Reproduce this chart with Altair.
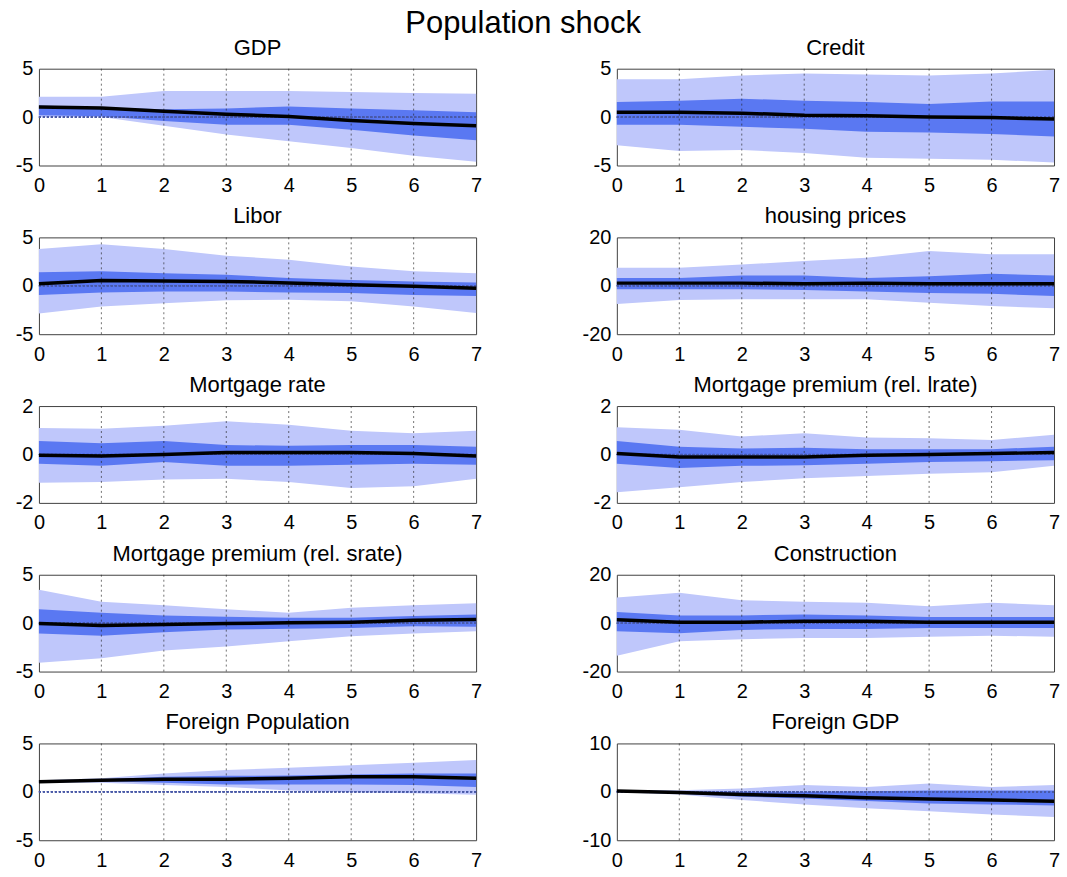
import altair as alt
import pandas as pd

steps = [0, 1, 2, 3, 4, 5, 6, 7]
grid_x = [1, 2, 3, 4, 5, 6]

titles = ["GDP", "Credit", "Libor", "housing prices", "Mortgage rate",
          "Mortgage premium (rel. lrate)", "Mortgage premium (rel. srate)",
          "Construction", "Foreign Population", "Foreign GDP"]
y_ticks = [[-5, 0, 5], [-5, 0, 5], [-5, 0, 5], [-20, 0, 20], [-2, 0, 2],
           [-2, 0, 2], [-5, 0, 5], [-20, 0, 20], [-5, 0, 5], [-10, 0, 10]]

gdp_hi90 = [2.1, 2.1, 2.7, 2.7, 2.7, 2.6, 2.5, 2.4]
gdp_hi68 = [1.2, 1.0, 0.8, 0.9, 1.1, 0.9, 0.7, 0.5]
gdp_med = [1.05, 0.95, 0.6, 0.3, 0.05, -0.35, -0.65, -0.9]
gdp_lo68 = [0.2, 0.1, -0.4, -0.8, -0.8, -1.3, -1.9, -2.4]
gdp_lo90 = [0.0, 0.0, -0.9, -1.8, -2.5, -3.2, -4.0, -4.6]

credit_hi90 = [3.9, 3.9, 4.3, 4.5, 4.4, 4.3, 4.5, 4.9]
credit_hi68 = [1.55, 1.7, 1.9, 1.7, 1.55, 1.35, 1.6, 1.6]
credit_med = [0.5, 0.5, 0.4, 0.2, 0.15, 0.0, -0.05, -0.2]
credit_lo68 = [-0.8, -0.8, -1.0, -1.2, -1.5, -1.6, -1.75, -2.0]
credit_lo90 = [-2.9, -3.5, -3.4, -3.7, -4.2, -4.3, -4.4, -4.7]

libor_hi90 = [3.8, 4.3, 3.8, 3.1, 2.7, 2.0, 1.5, 1.3]
libor_hi68 = [1.4, 1.5, 1.3, 1.15, 0.8, 0.6, 0.45, 0.35]
libor_med = [0.2, 0.55, 0.5, 0.45, 0.3, 0.1, -0.05, -0.25]
libor_lo68 = [-0.95, -0.7, -0.6, -0.6, -0.7, -0.75, -0.95, -1.05]
libor_lo90 = [-2.85, -2.15, -1.8, -1.5, -1.45, -1.6, -2.15, -2.8]

house_hi90 = [7.4, 7.4, 8.8, 10.2, 11.6, 14.4, 13.0, 13.0]
house_hi68 = [3.2, 3.2, 4.2, 4.2, 3.2, 3.9, 5.0, 4.2]
house_med = [1.1, 1.1, 1.1, 0.8, 1.1, 0.8, 0.8, 0.8]
house_lo68 = [-1.4, -1.4, -1.4, -1.7, -2.4, -3.0, -3.3, -4.2]
house_lo90 = [-7.5, -5.9, -5.6, -5.6, -5.6, -7.0, -8.4, -9.3]

mrate_hi90 = [1.09, 1.06, 1.19, 1.37, 1.23, 0.98, 0.88, 0.98]
mrate_hi68 = [0.56, 0.46, 0.56, 0.39, 0.36, 0.39, 0.39, 0.32]
mrate_med = [-0.03, -0.06, 0.0, 0.08, 0.08, 0.08, 0.04, -0.06]
mrate_lo68 = [-0.38, -0.47, -0.31, -0.47, -0.47, -0.42, -0.38, -0.42]
mrate_lo90 = [-1.17, -1.14, -1.03, -1.0, -1.14, -1.39, -1.31, -1.0]

mpl_hi90 = [1.12, 1.02, 0.74, 0.88, 0.7, 0.67, 0.6, 0.81]
mpl_hi68 = [0.56, 0.32, 0.25, 0.28, 0.22, 0.22, 0.22, 0.32]
mpl_med = [0.04, -0.1, -0.1, -0.1, -0.03, 0.0, 0.04, 0.08]
mpl_lo68 = [-0.38, -0.56, -0.47, -0.45, -0.38, -0.31, -0.28, -0.24]
mpl_lo90 = [-1.56, -1.35, -1.14, -0.98, -0.89, -0.8, -0.73, -0.47]

mps_hi90 = [3.45, 2.2, 1.85, 1.43, 1.08, 1.6, 1.85, 2.05]
mps_hi68 = [1.43, 1.08, 0.8, 0.66, 0.56, 0.56, 0.73, 0.9]
mps_med = [-0.03, -0.24, -0.14, -0.03, 0.03, 0.1, 0.31, 0.38]
mps_lo68 = [-1.08, -1.29, -0.94, -0.66, -0.59, -0.49, -0.31, -0.38]
mps_lo90 = [-4.08, -3.62, -2.82, -2.4, -1.88, -1.36, -1.08, -0.84]

constr_hi90 = [10.6, 12.6, 9.5, 8.8, 8.4, 7.0, 8.4, 7.4]
constr_hi68 = [4.6, 3.2, 3.2, 3.6, 3.2, 2.5, 2.5, 2.5]
constr_med = [1.4, 0.4, 0.4, 0.8, 0.8, 0.4, 0.4, 0.4]
constr_lo68 = [-3.3, -4.2, -2.8, -2.4, -2.4, -2.0, -2.0, -2.0]
constr_lo90 = [-13.5, -7.5, -6.6, -6.1, -6.1, -5.6, -5.2, -5.6]

fpop_hi90 = [1.2, 1.4, 1.9, 2.25, 2.5, 2.75, 3.0, 3.3]
fpop_hi68 = [1.1, 1.3, 1.55, 1.65, 1.7, 1.8, 1.9, 1.9]
fpop_med = [1.05, 1.2, 1.3, 1.3, 1.4, 1.55, 1.55, 1.4]
fpop_lo68 = [0.95, 1.1, 0.95, 0.75, 0.75, 0.75, 0.7, 0.5]
fpop_lo90 = [0.95, 0.95, 0.7, 0.5, 0.15, -0.05, -0.15, -0.3]

fgdp_hi90 = [0.35, 0.35, 0.7, 1.4, 1.0, 1.7, 1.0, 1.4]
fgdp_hi68 = [0.3, 0.15, 0.0, 0.0, 0.1, 0.3, 0.3, 0.3]
fgdp_med = [0.15, -0.15, -0.55, -0.8, -1.2, -1.5, -1.7, -1.95]
fgdp_lo68 = [-0.05, -0.4, -1.0, -1.4, -1.9, -2.4, -2.6, -2.8]
fgdp_lo90 = [-0.1, -0.55, -1.7, -2.6, -3.4, -4.0, -4.7, -5.2]

series = [
    (gdp_hi90, gdp_hi68, gdp_med, gdp_lo68, gdp_lo90),
    (credit_hi90, credit_hi68, credit_med, credit_lo68, credit_lo90),
    (libor_hi90, libor_hi68, libor_med, libor_lo68, libor_lo90),
    (house_hi90, house_hi68, house_med, house_lo68, house_lo90),
    (mrate_hi90, mrate_hi68, mrate_med, mrate_lo68, mrate_lo90),
    (mpl_hi90, mpl_hi68, mpl_med, mpl_lo68, mpl_lo90),
    (mps_hi90, mps_hi68, mps_med, mps_lo68, mps_lo90),
    (constr_hi90, constr_hi68, constr_med, constr_lo68, constr_lo90),
    (fpop_hi90, fpop_hi68, fpop_med, fpop_lo68, fpop_lo90),
    (fgdp_hi90, fgdp_hi68, fgdp_med, fgdp_lo68, fgdp_lo90),
]

FONT = "Liberation Sans"
LIGHT = "#bfc7fb"
MEDIUM = "#5a78f2"
W, H = 438, 97


def panel(title, ticks, s):
    hi90, hi68, med, lo68, lo90 = s
    df = pd.DataFrame({"t": steps, "hi90": hi90, "hi68": hi68, "med": med,
                       "lo68": lo68, "lo90": lo90})
    grid_df = pd.DataFrame({"g": grid_x})
    xs = alt.Scale(domain=[0, 7], nice=False, zero=False)
    ys = alt.Scale(domain=[ticks[0], ticks[-1]], nice=False, zero=False)
    xaxis = alt.Axis(values=steps, title=None, grid=False, ticks=False, domain=False,
                     labelFontSize=20, labelFont=FONT, labelColor="#000",
                     labelPadding=10, labelFlush=False, labelOverlap=False,
                     labelExpr="'' + datum.value")
    yaxis = alt.Axis(values=ticks, title=None, grid=False, ticks=False, domain=False,
                     labelFontSize=20, labelFont=FONT, labelColor="#000",
                     labelPadding=6, labelFlush=False, labelOverlap=False,
                     labelExpr="'' + datum.value")
    base = alt.Chart(df)
    outer = base.mark_area(color=LIGHT, opacity=1).encode(
        x=alt.X("t:Q", scale=xs, axis=xaxis),
        y=alt.Y("hi90:Q", scale=ys, axis=yaxis),
        y2="lo90:Q")
    inner = base.mark_area(color=MEDIUM, opacity=1).encode(
        x="t:Q", y="hi68:Q", y2="lo68:Q")
    zero = base.mark_rule(color="#4a5aa8", strokeDash=[2, 2], strokeWidth=1).encode(
        y=alt.datum(0))
    vgrid = alt.Chart(grid_df).mark_rule(color="#222", strokeDash=[2, 3],
                                         strokeWidth=0.8, opacity=0.8).encode(x="g:Q")
    line = base.mark_line(color="#000", strokeWidth=3.5).encode(x="t:Q", y="med:Q")
    return alt.layer(outer, inner, zero, vgrid, line).properties(
        width=W, height=H,
        title=alt.TitleParams(title, fontSize=22, font=FONT, fontWeight="normal",
                              color="#000", offset=-1, anchor="middle"))


panels = [panel(t, tk, s) for t, tk, s in zip(titles, y_ticks, series)]

chart = alt.concat(*panels, columns=2, spacing={"row": 72, "column": 141},
                   bounds="flush").properties(
    title=alt.TitleParams("Population shock", fontSize=31, font=FONT,
                          fontWeight="normal", color="#000", anchor="middle",
                          dx=-15, offset=-4),
    padding={"left": 14, "top": 7, "right": 5, "bottom": 5},
).configure(background="white").configure_view(stroke="#404040", strokeWidth=1)

chart.save("out.html", embed_options={"renderer": "svg", "actions": False})
